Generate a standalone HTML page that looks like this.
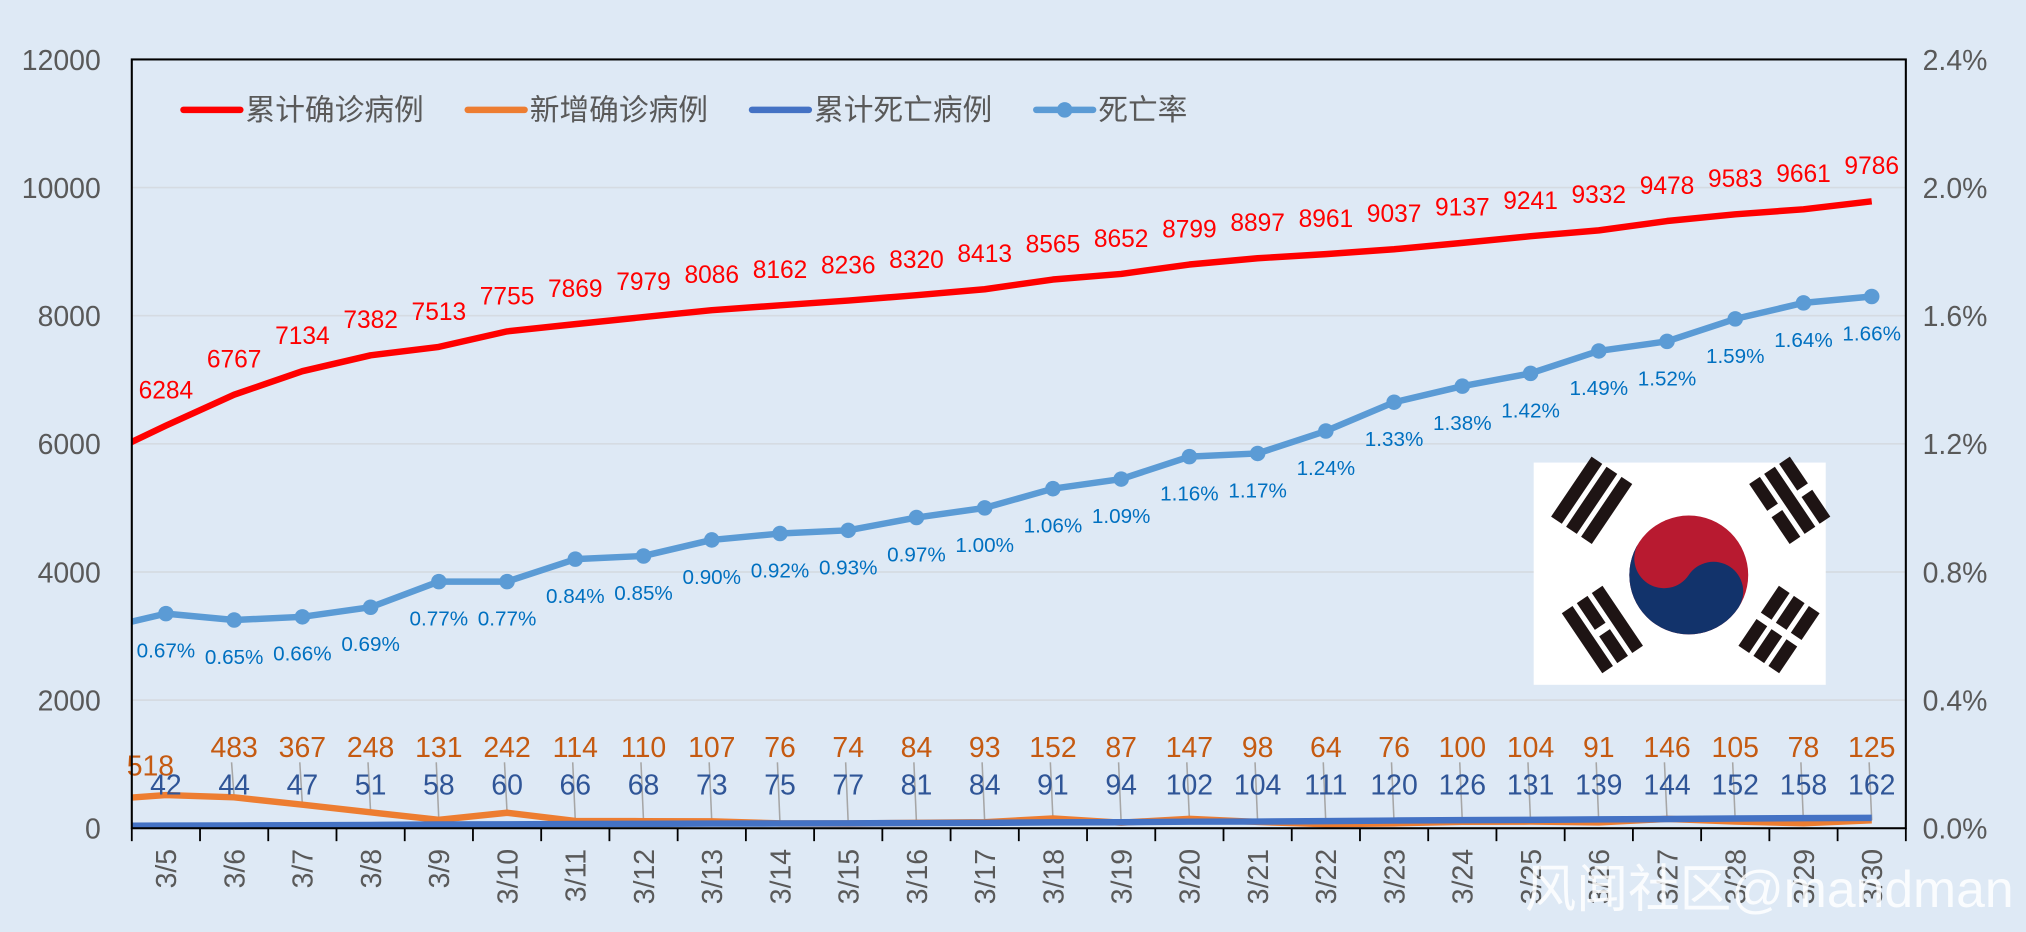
<!DOCTYPE html>
<html><head><meta charset="utf-8"><style>
html,body{margin:0;padding:0;background:#dee9f5;}
svg{display:block;font-family:"Liberation Sans","Noto Sans CJK SC",sans-serif;}
</style></head><body>
<svg id="chart" width="2026" height="932" viewBox="0 0 1568 721.3" xmlns="http://www.w3.org/2000/svg">
<rect x="0" y="0" width="1568" height="722" fill="#dee9f5"/>
<g id="grid"></g>
<g id="flag">
  <rect x="1187" y="358" width="226" height="172" fill="#ffffff"/>
  <g transform="translate(1307,445) rotate(33.7)">
    <circle r="46" fill="#b81a30"/>
    <path d="M -46 0 A 46 46 0 0 0 46 0 A 23 23 0 0 0 0 0 A 23 23 0 0 1 -46 0 Z" fill="#12336b"/>
  </g>
  <g id="trigrams"></g>
</g>
<g id="series"></g>
<g id="axes"></g>
<g id="legend"></g>
<text x="1180" y="702" font-size="40" fill="#ffffff" fill-opacity="0.85">风闻社区@mandman</text>
</svg>
<script>
const dates = ["3/5","3/6","3/7","3/8","3/9","3/10","3/11","3/12","3/13","3/14","3/15","3/16","3/17","3/18","3/19","3/20","3/21","3/22","3/23","3/24","3/25","3/26","3/27","3/28","3/29","3/30"];
const confirmed = [6284,6767,7134,7382,7513,7755,7869,7979,8086,8162,8236,8320,8413,8565,8652,8799,8897,8961,9037,9137,9241,9332,9478,9583,9661,9786];
const newCases = [518,483,367,248,131,242,114,110,107,76,74,84,93,152,87,147,98,64,76,100,104,91,146,105,78,125];
const deaths = [42,44,47,51,58,60,66,68,73,75,77,81,84,91,94,102,104,111,120,126,131,139,144,152,158,162];
const deathRate = [0.67,0.65,0.66,0.69,0.77,0.77,0.84,0.85,0.90,0.92,0.93,0.97,1.00,1.06,1.09,1.16,1.17,1.24,1.33,1.38,1.42,1.49,1.52,1.59,1.64,1.66];
const priorValues = [5776,440,35,0.62];
const leftTicks = [0,2000,4000,6000,8000,10000,12000];
const rightTicks = [0,0.4,0.8,1.2,1.6,2.0,2.4];

const NS="http://www.w3.org/2000/svg";
const L=102,R=1475,T=46,B=641;
const n=dates.length, cw=(R-L)/n;
const xs=i=>L+cw*(i+0.5);
const yL=v=>B-(v/12000)*(B-T);
const yR=v=>B-(v/2.4)*(B-T);
function mk(tag,attrs,parent){const e=document.createElementNS(NS,tag);for(const k in attrs)e.setAttribute(k,attrs[k]);parent.appendChild(e);return e;}
const grid=document.getElementById('grid'),axes=document.getElementById('axes'),ser=document.getElementById('series'),leg=document.getElementById('legend');

const defs=mk('defs',{},document.getElementById('chart'));
const cp=mk('clipPath',{id:'plotclip'},defs);
mk('rect',{x:L,y:T-10,width:R-L+20,height:B-T+20},cp);

leftTicks.forEach((v,i)=>{
  if(v>0){const g=mk('line',{x1:L,x2:R,y1:yL(v),y2:yL(v),stroke:'#d5dbe2','stroke-width':1.3},grid);
  }
  const t=mk('text',{x:78,y:yL(v)+8,'text-anchor':'end','font-size':22,fill:'#595959'},axes);
  t.textContent=v;
});
rightTicks.forEach(v=>{
  const t=mk('text',{x:1488,y:yR(v)+8,'font-size':22,fill:'#595959'},axes);
  t.textContent=v.toFixed(1)+'%';
});
mk('rect',{x:L,y:T,width:R-L,height:B-T,fill:'none',stroke:'#000','stroke-width':1.6},axes);
for(let i=0;i<=n;i++){mk('line',{x1:L+cw*i,x2:L+cw*i,y1:B,y2:B+10,stroke:'#000','stroke-width':1.4},axes);}
dates.forEach((d,i)=>{
  const t=mk('text',{transform:`translate(${xs(i)+8},657) rotate(-90)`,'text-anchor':'end','font-size':22,fill:'#595959'},axes);
  t.textContent=d;
});

function linePath(vals,prior,yf){
  let d=`M ${xs(-1)} ${yf(prior)}`;vals.forEach((v,i)=>d+=` L ${xs(i)} ${yf(v)}`);return d;
}
newCases.forEach((v,i)=>{
  if(i===0)return;
  const l=mk('line',{x1:xs(i)-2,y1:590,x2:xs(i),y2:yL(v),stroke:'#a6a6a6','stroke-width':1.2},ser);
  
});
const g1=mk('g',{'clip-path':'url(#plotclip)'},ser);
const pNew=mk('path',{d:linePath(newCases,priorValues[1],yL),fill:'none',stroke:'#ed7d31','stroke-width':5,'stroke-linejoin':'round'},g1);

const pDeath=mk('path',{d:linePath(deaths,priorValues[2],yL),fill:'none',stroke:'#4472c4','stroke-width':5,'stroke-linejoin':'round'},g1);

const pConf=mk('path',{d:linePath(confirmed,priorValues[0],yL),fill:'none',stroke:'#ff0000','stroke-width':5,'stroke-linejoin':'round'},g1);

const pRate=mk('path',{d:linePath(deathRate,priorValues[3],yR),fill:'none',stroke:'#5b9bd5','stroke-width':5,'stroke-linejoin':'round'},g1);

deathRate.forEach((v,i)=>{
  const c=mk('circle',{cx:xs(i),cy:yR(v),r:6,fill:'#5b9bd5'},ser);
  
  const t=mk('text',{x:xs(i),y:yR(v)+34,'text-anchor':'middle','font-size':16,fill:'#0070c0'},ser);
  t.textContent=v.toFixed(2)+'%';
});
confirmed.forEach((v,i)=>{
  const t=mk('text',{x:xs(i),y:yL(v)-21,'text-anchor':'middle','font-size':19,fill:'#ff0000'},ser);
  t.textContent=v;
});
newCases.forEach((v,i)=>{
  const t=mk('text',{x:i===0?xs(i)-12:xs(i),y:i===0?600:586,'text-anchor':'middle','font-size':22,fill:'#c55a11'},ser);
  t.textContent=v;
});
deaths.forEach((v,i)=>{
  const t=mk('text',{x:xs(i),y:615,'text-anchor':'middle','font-size':22,fill:'#2f5597'},ser);
  t.textContent=v;
});

const items=[["累计确诊病例","#ff0000",140,false],["新增确诊病例","#ed7d31",360,false],["累计死亡病例","#4472c4",580,false],["死亡率","#5b9bd5",800,true]];
items.forEach(([lab,col,x,mark])=>{
  const g=mk('g',{},leg);
  
  mk('line',{x1:x+2,x2:x+46,y1:85,y2:85,stroke:col,'stroke-width':5,'stroke-linecap':'round'},g);
  if(mark)mk('circle',{cx:x+24,cy:85,r:6,fill:col},g);
  const t=mk('text',{x:x+50,y:93,'font-size':23,fill:'#595959'},g);t.textContent=lab;
});

const tg=document.getElementById('trigrams');
const tri=[[1236,390,-56,[0,0,0]],[1381,390,56,[1,0,1]],[1236,490,56,[0,1,0]],[1381,490,-56,[1,1,1]]];
tri.forEach(([cx,cy,ang,br])=>{
  const g=mk('g',{transform:`translate(${cx},${cy}) rotate(${ang})`},tg);
  br.forEach((b,k)=>{
    const y=-19+k*14-5;
    if(b){mk('rect',{x:-28,y:y,width:25,height:10,fill:'#1e1414'},g);mk('rect',{x:3,y:y,width:25,height:10,fill:'#1e1414'},g);}
    else mk('rect',{x:-28,y:y,width:56,height:10,fill:'#1e1414'},g);
  });
});
</script>
</body></html>
